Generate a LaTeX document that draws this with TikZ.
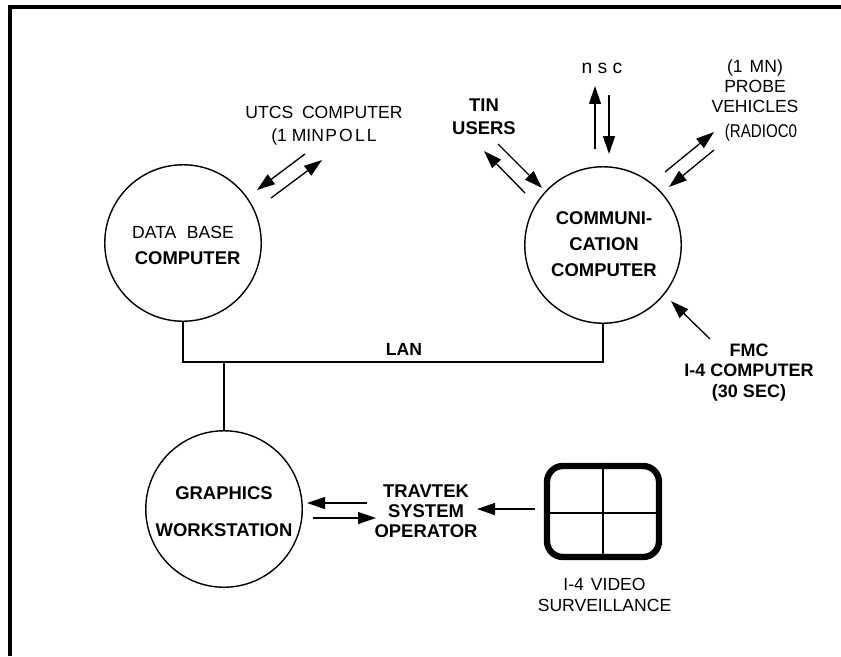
\documentclass[tikz,border=0pt]{standalone}
\usepackage{fontspec}
\setmainfont{Liberation Sans}
\usetikzlibrary{arrows.meta}
\tikzset{
  flecha/.style={line width=0.75pt,-{Triangle[length=3.6mm,width=2.4mm]}},
  linea/.style={line width=0.8pt},
  circulo/.style={draw,circle,line width=0.8pt,minimum size=3.13cm,inner sep=0pt},
  txt/.style={inner sep=0pt,align=center,font=\fontsize{10}{11.5}\selectfont},
  txtb/.style={inner sep=0pt,align=center,font=\fontsize{10.5}{11.5}\selectfont\bfseries}
}
\begin{document}
\begin{tikzpicture}[x=0.02cm,y=-0.02cm]
    \useasboundingbox (0,0) rectangle (841,656);
    %Marco
    \draw[line width=2.3pt] (10,656) |- (841,7);

    %Circulos
    \node[circulo] (base) at (183,243) {};
    \node[circulo] (comm) at (603,245) {};
    \node[circulo] (graphics) at (224,509) {};

    %Textos de los circulos
    \node[txtb,font=\fontsize{10.5}{14.5}\selectfont\bfseries] (basetxt) at (183,245.5) {{\fontsize{10}{14.5}\selectfont\mdseries DATA\hspace{0.6em}BASE}\hspace{0.4em}\\\hspace{0.5em}COMPUTER};
    \node[txtb,font=\fontsize{10.5}{14.7}\selectfont\bfseries] (commtxt) at (604,244) {COMMUNI-\hspace{0.2em}\\CATION\\COMPUTER};
    \node[txtb,font=\fontsize{10.5}{21}\selectfont\bfseries] (graphicstxt) at (224,511.5) {GRAPHICS\\WORKSTATION};

    %Monitor
    \node[draw,line width=3.6pt,rounded corners=9pt,minimum width=2.24cm,minimum height=1.82cm,inner sep=0pt] (monitor) at (603,511.5) {};
    \coordinate (cruce) at (603,513);
    \draw[linea] (monitor.north) -- (monitor.south);
    \draw[linea] (monitor.west |- cruce) -- (monitor.east |- cruce);

    %Textos
    \node[txt] (utcs) at (324,125.5) {UTCS\hspace{0.5em}COMPUTER\\[1.5pt](1 MIN\hspace{0.08em}{\addfontfeature{LetterSpace=12}POLL}};
    \node[txt,font=\fontsize{11}{12}\selectfont] (nsc) at (602,68) {n s c};
    \node[txt] (probe) at (755,86) {(1\hspace{0.4em}MN)\\PROBE\hspace{0.9em}\\VEHICLES};
    \node[txt,font=\fontsize{10.5}{12}\selectfont] (radio) at (761,133) {\scalebox{0.82}[1]{(RADIOC0}};
    \node[txtb] (tin) at (484,117) {TIN\\[1.5pt]USERS};
    \node[txtb,font=\fontsize{10}{12}\selectfont\bfseries] (lan) at (404,349) {LAN};
    \node[txtb,font=\fontsize{10.25}{11.8}\selectfont\bfseries] (fmc) at (749,372.5) {FMC\\I-4 COMPUTER\\(30 SEC)};
    \node[txtb] (operador) at (426,511.5) {TRAVTEK\\SYSTEM\\OPERATOR};
    \node[txt] (video) at (604.5,595) {I-4\hspace{0.4em}VIDEO\\SURVEILLANCE};

    %Red LAN
    \coordinate (bus) at (224,362);
    \draw[linea] (base.south) |- (bus) -| (comm.south);
    \draw[linea] (graphics.north) -- (bus);

    %Puntas de las flechas
    \coordinate (u1) at (305,154); \coordinate (u2) at (257,190);
    \coordinate (u3) at (271,198); \coordinate (u4) at (322,160);
    \coordinate (n1) at (595,149); \coordinate (n2) at (595,86);
    \coordinate (n3) at (609,95);  \coordinate (n4) at (609,154);
    \coordinate (t1) at (525,193); \coordinate (t2) at (484,151);
    \coordinate (t3) at (498,144); \coordinate (t4) at (542,188);
    \coordinate (p1) at (665,172); \coordinate (p2) at (714,132);
    \coordinate (p3) at (714,150); \coordinate (p4) at (669,187);
    \coordinate (f1) at (710,339); \coordinate (f2) at (671,301);
    \coordinate (o1) at (367,503); \coordinate (o2) at (307,503);
    \coordinate (o3) at (313,518); \coordinate (o4) at (376,518);
    \coordinate (m1) at (535,509); \coordinate (m2) at (477,509);

    %Flechas
    \draw[flecha] (u1) -- (u2);
    \draw[flecha] (u3) -- (u4);
    \draw[flecha] (n1) -- (n2);
    \draw[flecha] (n3) -- (n4);
    \draw[flecha] (t1) -- (t2);
    \draw[flecha] (t3) -- (t4);
    \draw[flecha] (p1) -- (p2);
    \draw[flecha] (p3) -- (p4);
    \draw[flecha] (f1) -- (f2);
    \draw[flecha] (o1) -- (o2);
    \draw[flecha] (o3) -- (o4);
    \draw[flecha] (m1) -- (m2);
\end{tikzpicture}
\end{document}
